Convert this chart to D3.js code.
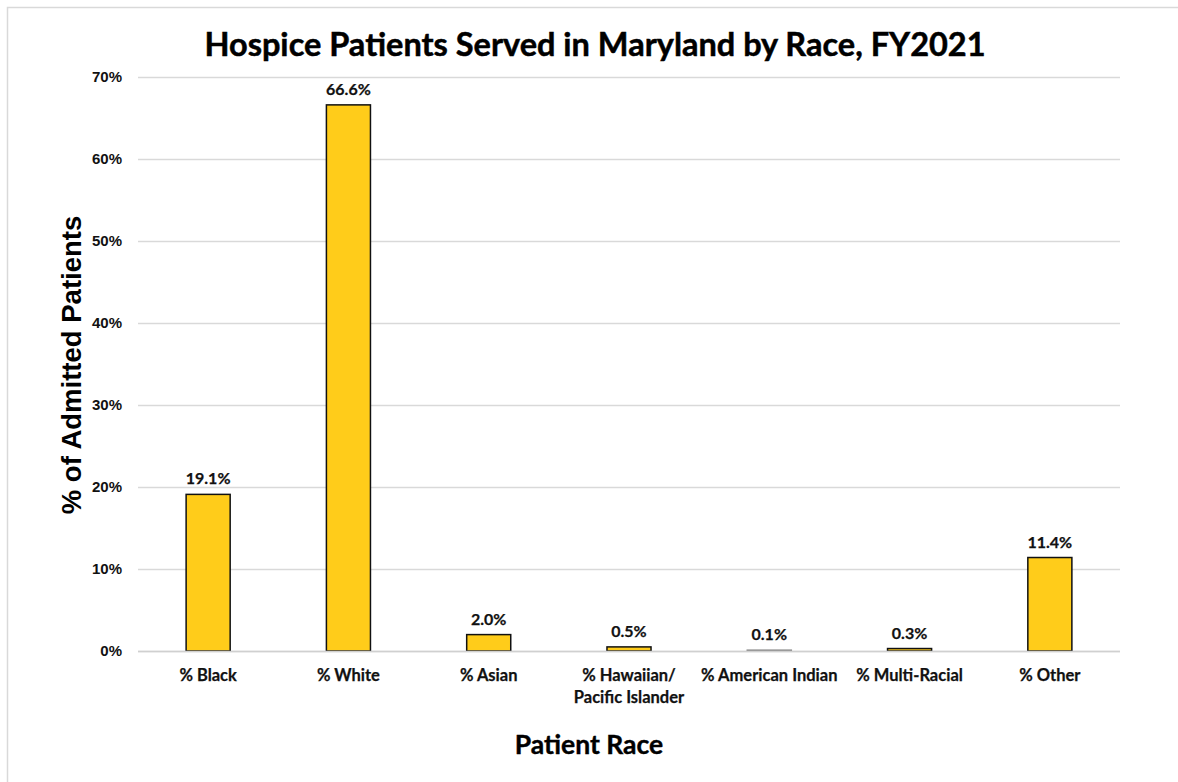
<!DOCTYPE html>
<html><head><meta charset="utf-8">
<script src="https://cdn.jsdelivr.net/npm/d3@7"></script>
<style>
html,body{margin:0;padding:0;background:#fff;}
svg{display:block;}
</style></head>
<body>
<svg id="chart" width="1178" height="782"></svg>
<script>
const categories = ["% Black", "% White", "% Asian", "% Hawaiian/\nPacific Islander", "% American Indian", "% Multi-Racial", "% Other"];
const values = [19.1, 66.6, 2.0, 0.5, 0.1, 0.3, 11.4];
const valueLabels = ["19.1%", "66.6%", "2.0%", "0.5%", "0.1%", "0.3%", "11.4%"];
const yTicks = [0, 10, 20, 30, 40, 50, 60, 70];
const titleText = "Hospice Patients Served in Maryland by Race, FY2021";
const yTitle = "% of Admitted Patients";
const xTitle = "Patient Race";

const svg = d3.select("#chart");
const W = 1178, H = 782;
const m = {left: 138, right: 58, top: 77, bottom: 131};

// outer chart border
svg.append("rect").attr("x", 7.5).attr("y", 7.5).attr("width", W).attr("height", H)
  .attr("fill", "none").attr("stroke", "#d9d9d9").attr("stroke-width", 1.5);

const x = d3.scaleBand().domain(categories).range([m.left, W - m.right]).paddingInner(0.686).paddingOuter(0.343);
const y = d3.scaleLinear().domain([0, 70]).range([H - m.bottom, m.top]);

// gridlines
const grid = svg.append("g").call(d3.axisLeft(y).tickValues(yTicks).tickSize(-(W - m.right - m.left)).tickFormat(""))
  .attr("transform", `translate(${m.left},0)`);
grid.select(".domain").remove();
grid.selectAll("line").attr("stroke", "#d9d9d9").attr("stroke-width", 1.3);

// y tick labels
const yAx = svg.append("g").attr("transform", `translate(${m.left},0)`)
  .call(d3.axisLeft(y).tickValues(yTicks).tickSize(0).tickPadding(16).tickFormat(d => d + "%"));
yAx.select(".domain").remove();
yAx.selectAll("text").attr("font-family", "Liberation Sans, Arial, sans-serif")
  .attr("font-weight", "bold").attr("font-size", 15).attr("fill", "#111");

// bars
svg.append("g").selectAll("rect").data(values).join("rect")
  .attr("x", (d, i) => x(categories[i]))
  .attr("y", d => y(d))
  .attr("width", x.bandwidth())
  .attr("height", d => y(0) - y(d))
  .attr("fill", "#FFCC1A")
  .attr("stroke", (d) => d < 0.2 ? "#888" : "#111")
  .attr("stroke-width", 1.5);

// baseline
svg.append("line").attr("x1", m.left).attr("x2", W - m.right)
  .attr("y1", y(0) + 0.5).attr("y2", y(0) + 0.5).attr("stroke", "#d0d0d0").attr("stroke-width", 1.5);

const calibri = "Lato, Carlito, Calibri, sans-serif";

// value labels
svg.append("g").selectAll("text").data(values).join("text")
  .attr("x", (d, i) => x(categories[i]) + x.bandwidth() / 2)
  .attr("y", d => y(d) - 10)
  .attr("text-anchor", "middle")
  .attr("font-family", calibri)
  .attr("font-weight", "bold").attr("font-size", 16).attr("fill", "#111")
  .attr("stroke", "#111").attr("stroke-width", 0.25)
  .text((d, i) => valueLabels[i]);

// category labels
const catG = svg.append("g");
categories.forEach((c, i) => {
  const t = catG.append("text")
    .attr("x", x(c) + x.bandwidth() / 2)
    .attr("y", y(0) + 30)
    .attr("text-anchor", "middle")
    .attr("font-family", calibri)
    .attr("font-weight", "bold").attr("font-size", 16.5).attr("fill", "#111")
    .attr("stroke", "#111").attr("stroke-width", 0.25);
  c.split("\n").forEach((line, j) => {
    t.append("tspan").attr("x", x(c) + x.bandwidth() / 2).attr("dy", j === 0 ? 0 : 22).text(line);
  });
});

// title
svg.append("text").attr("x", 595).attr("y", 56).attr("text-anchor", "middle")
  .attr("font-family", calibri)
  .attr("font-weight", "bold").attr("font-size", 32.5).attr("fill", "#000")
  .attr("stroke", "#000").attr("stroke-width", 0.5)
  .text(titleText);

// y title
svg.append("text").attr("transform", `translate(81,${(m.top + H - m.bottom) / 2 + 1}) rotate(-90)`)
  .attr("text-anchor", "middle")
  .attr("font-family", "Liberation Sans, Arial, sans-serif")
  .attr("font-weight", "bold").attr("font-size", 27.5).attr("fill", "#000")
  .text(yTitle);

// x title
svg.append("text").attr("x", 589).attr("y", 754).attr("text-anchor", "middle")
  .attr("font-family", calibri)
  .attr("font-weight", "bold").attr("font-size", 26.5).attr("fill", "#000")
  .attr("stroke", "#000").attr("stroke-width", 0.4)
  .text(xTitle);
</script>
</body></html>
